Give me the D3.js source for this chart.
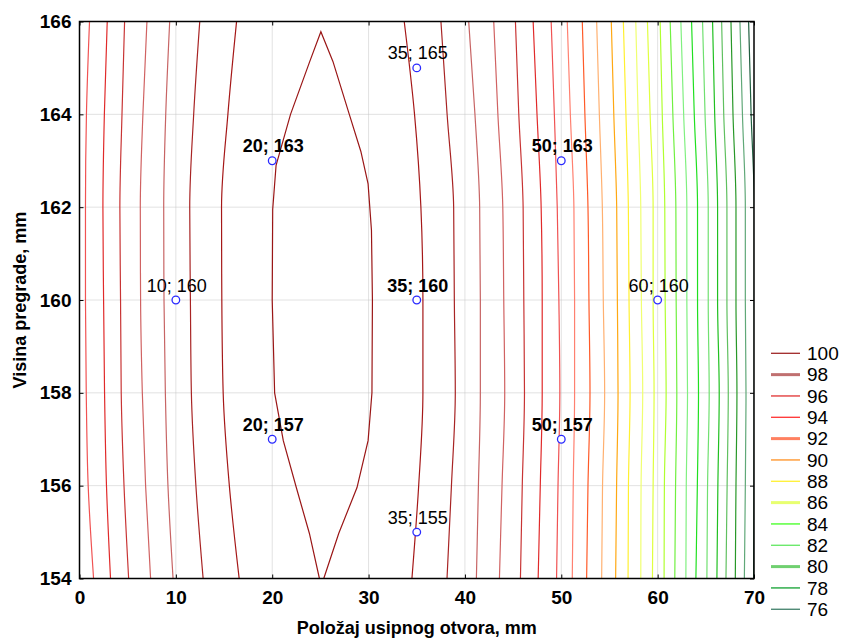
<!DOCTYPE html>
<html><head><meta charset="utf-8">
<script src="https://cdn.jsdelivr.net/npm/d3@7"></script>
<style>
body{margin:0;background:#fff;}
text{font-family:"Liberation Sans",Arial,sans-serif;}
</style></head>
<body><svg id="c" width="842" height="639"></svg>
<script>
// ---------- data ----------
const xTicks = [0,10,20,30,40,50,60,70];
const yTicks = [154,156,158,160,162,164,166];
const rowY = [166,164,162,160,158,156,154];
const leftLevels = [99,98,97,96,95,94,93];
const leftX = [
  [16.30,15.40,14.74,14.77,14.91,15.55,16.57],
  [12.48,11.85,11.44,11.51,11.61,12.08,12.83],
  [9.36,8.95,8.74,8.77,8.91,9.18,9.71],
  [7.00,6.58,6.31,6.34,6.52,6.86,7.38],
  [4.68,4.41,4.19,4.26,4.33,4.62,5.10],
  [2.88,2.58,2.43,2.50,2.60,2.80,3.22],
  [1.04,0.72,0.62,0.62,0.70,0.90,1.46]
];
const rightLevels = [99,98,97,96,95,94,93,92,91,90,89,88,87,86,85,84,83,82,81,80,79,78,77,76];
const rightX = [
  [33.70,34.77,35.43,35.64,35.64,35.20,34.50],
  [37.51,38.15,38.83,38.90,39.00,38.60,38.14],
  [40.39,41.04,41.53,41.60,41.60,41.40,41.19],
  [42.99,43.42,43.93,44.03,44.13,43.85,43.58],
  [45.24,45.59,46.04,46.11,46.18,45.95,45.76],
  [47.08,47.48,47.91,48.02,48.02,47.82,47.60],
  [48.95,49.28,49.58,49.75,49.85,49.66,49.51],
  [50.62,50.94,51.31,51.38,51.38,51.24,51.14],
  [52.18,52.45,52.77,52.87,52.98,52.77,52.63],
  [53.67,53.95,54.26,54.36,54.50,54.28,54.19],
  [55.19,55.45,55.75,55.82,55.89,55.74,55.64],
  [56.44,56.71,56.96,57.03,57.14,56.97,56.93],
  [57.73,57.97,58.25,58.31,58.45,58.28,58.25],
  [58.94,59.22,59.53,59.53,59.63,59.53,59.46],
  [60.26,60.48,60.74,60.78,60.88,60.70,60.67],
  [61.30,61.58,61.89,61.92,61.99,61.86,61.78],
  [62.41,62.70,63.03,63.03,63.10,62.97,62.93],
  [63.52,63.80,64.14,64.14,64.24,64.12,63.97],
  [64.66,64.92,65.25,65.25,65.35,65.18,65.11],
  [65.70,65.92,66.22,66.22,66.39,66.25,66.15],
  [66.64,66.86,67.19,67.19,67.33,67.21,67.09],
  [67.61,67.82,68.13,68.13,68.23,68.13,68.06],
  [68.54,68.80,69.10,69.10,69.17,69.10,69.00],
  [69.44,69.70,70.03,70.03,70.03,70.00,69.96]
];
// contour 100 (closed lens, open at the bottom axis)
const lensX = [24.9,23.86,22.5,21.15,20.25,20.0,20.05,20.4,21.9,23.9,25.05,26.3,28.0,29.2,29.95,30.3,30.4,30.35,29.95,28.8,26.9,25.35];
const lensY = [154,154.97,155.96,156.97,158,160,161.95,162.9,164.0,165.14,165.78,165.14,164.0,163.2,162.5,161.5,160,158,156.97,155.96,154.97,154];
const pointX = [10,20,20,35,35,35,50,50,60];
const pointY = [160,163,157,165,160,155,163,157,160];
const pointLabel = ["10; 160","20; 163","20; 157","35; 165","35; 160","35; 155","50; 163","50; 157","60; 160"];
const pointBold = [false,true,true,false,true,false,true,true,false];
const legendLevels = [100,98,96,94,92,90,88,86,84,82,80,78,76];

// ---------- styles ----------
const lineColor = {
  100:"#9a1616",99:"#a51818",98:"#a82424",97:"#c76464",96:"#d06262",95:"#c83434",
  94:"#e02a2a",93:"#f05252",92:"#ff8070",91:"#ff5a28",90:"#ffb070",89:"#ffa812",
  88:"#fff030",87:"#f0ff70",86:"#e0ff40",85:"#b0ff30",84:"#70f040",83:"#80f080",
  82:"#20e020",81:"#70e070",80:"#20c020",79:"#60c060",78:"#289828",77:"#60a878",76:"#205f40"
};
const legendColor = {
  100:"#a02828",98:"#c07070",96:"#e03030",94:"#ff3030",92:"#ff8060",90:"#ff9020",
  88:"#fff030",86:"#e8ff70",84:"#40ff20",82:"#60e860",80:"#70d070",78:"#10a030",76:"#40806a"
};
const legendWidth = {98:3,92:3,86:3,80:3};

const svg = d3.select("#c");
const x = d3.scaleLinear().domain([0,70]).range([79.5,754]);
const y = d3.scaleLinear().domain([154,166]).range([578.5,21.5]);

svg.append("defs").append("clipPath").attr("id","clip")
  .append("rect").attr("x",x(0)).attr("y",y(166)).attr("width",x(70)-x(0)).attr("height",y(154)-y(166));

// grid
const grid = svg.append("g");
grid.selectAll("line.v").data(xTicks.filter(d=>d>0&&d<70)).enter().append("line")
  .attr("x1",d=>x(d)).attr("x2",d=>x(d)).attr("y1",y(166)).attr("y2",y(154))
  .attr("stroke","#c4c4c4").attr("stroke-dasharray","1,1");
grid.selectAll("line.h").data(yTicks.filter(d=>d>154&&d<166)).enter().append("line")
  .attr("y1",d=>y(d)).attr("y2",d=>y(d)).attr("x1",x(0)).attr("x2",x(70))
  .attr("stroke","#c4c4c4").attr("stroke-dasharray","1,1");

// contour lines
const plot = svg.append("g").attr("clip-path","url(#clip)");
const vline = d3.line().x(d=>x(d[0])).y(d=>y(d[1])).curve(d3.curveMonotoneY);
leftLevels.forEach((lv,i)=>{
  plot.append("path").datum(leftX[i].map((v,j)=>[v,rowY[j]]))
    .attr("d",vline).attr("fill","none").attr("stroke",lineColor[lv]).attr("stroke-width",1.2);
});
rightLevels.forEach((lv,i)=>{
  plot.append("path").datum(rightX[i].map((v,j)=>[v,rowY[j]]))
    .attr("d",vline).attr("fill","none").attr("stroke",lineColor[lv]).attr("stroke-width",1.2);
});
const lens = d3.line().x(d=>x(d[0])).y(d=>y(d[1]));
plot.append("path").datum(lensX.map((v,i)=>[v,lensY[i]]))
  .attr("d",lens).attr("fill","none").attr("stroke",lineColor[100]).attr("stroke-width",1.2);

// frame & axes
const fs = "19px";
const ax = svg.append("g").attr("transform",`translate(0,${y(154)})`)
  .call(d3.axisBottom(x).tickValues(xTicks).tickSize(-4).tickPadding(12).tickFormat(d3.format("d")));
const ay = svg.append("g").attr("transform",`translate(${x(0)},0)`)
  .call(d3.axisLeft(y).tickValues(yTicks).tickSize(-4).tickPadding(8).tickFormat(d3.format("d")));
const at = svg.append("g").attr("transform",`translate(0,${y(166)})`)
  .call(d3.axisTop(x).tickValues(xTicks).tickSize(-4).tickFormat(""));
const ar = svg.append("g").attr("transform",`translate(${x(70)},0)`)
  .call(d3.axisRight(y).tickValues(yTicks).tickSize(-4).tickFormat(""));
[ax,ay,at,ar].forEach(g=>{
  g.select(".domain").remove();
  g.selectAll("line").attr("stroke","#000");
  g.selectAll("text").attr("font-size",fs).attr("font-weight","bold").attr("fill","#000")
   .style("font-family",'"Liberation Sans",Arial,sans-serif');
});
svg.append("rect").attr("x",x(0)).attr("y",y(166)).attr("width",x(70)-x(0)).attr("height",y(154)-y(166))
  .attr("fill","none").attr("stroke","#000").attr("stroke-width",1.5);

// axis titles
svg.append("text").attr("x",(x(0)+x(70))/2).attr("y",634).attr("text-anchor","middle")
  .attr("font-size","18px").attr("font-weight","bold").text("Položaj usipnog otvora, mm");
svg.append("text").attr("transform",`translate(26,${(y(154)+y(166))/2}) rotate(-90)`).attr("text-anchor","middle")
  .attr("font-size","18px").attr("font-weight","bold").text("Visina pregrade, mm");

// points & labels
const pts = svg.append("g");
pointX.forEach((px,i)=>{
  pts.append("circle").attr("cx",x(px)).attr("cy",y(pointY[i])).attr("r",3.8)
    .attr("fill","#fff").attr("stroke","#2a2aff").attr("stroke-width",1.3);
  pts.append("text").attr("x",x(px)+1).attr("y",y(pointY[i])-8.5).attr("text-anchor","middle")
    .attr("font-size","18px").attr("font-weight",pointBold[i]?"bold":"normal").text(pointLabel[i]);
});

// legend
const lg = svg.append("g");
legendLevels.forEach((lv,i)=>{
  const ly = 353.3 + i*21.33;
  lg.append("line").attr("x1",771).attr("x2",800).attr("y1",ly).attr("y2",ly)
    .attr("stroke",legendColor[lv]).attr("stroke-width",legendWidth[lv]||1.3);
  lg.append("text").attr("x",807).attr("y",ly).attr("dy","0.35em")
    .attr("font-size","19px").text(lv);
});
</script></body></html>
